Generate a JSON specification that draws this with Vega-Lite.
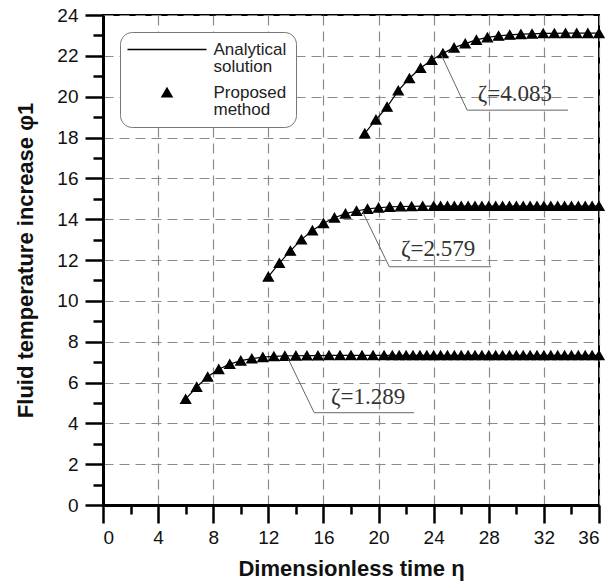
{
  "$schema": "https://vega.github.io/schema/vega-lite/v6.json",
  "width": 496,
  "height": 490,
  "autosize": {"type": "none"},
  "padding": {"left": 103, "top": 15, "right": 13, "bottom": 83},
  "background": "white",
  "datasets": {
    "curves": [
      {"eta": 6, "phi": 5.19, "zeta": "1.289"},
      {"eta": 6.8, "phi": 5.78, "zeta": "1.289"},
      {"eta": 7.6, "phi": 6.28, "zeta": "1.289"},
      {"eta": 8.4, "phi": 6.65, "zeta": "1.289"},
      {"eta": 9.2, "phi": 6.9, "zeta": "1.289"},
      {"eta": 10, "phi": 7.07, "zeta": "1.289"},
      {"eta": 10.8, "phi": 7.17, "zeta": "1.289"},
      {"eta": 11.6, "phi": 7.24, "zeta": "1.289"},
      {"eta": 12.4, "phi": 7.28, "zeta": "1.289"},
      {"eta": 13.2, "phi": 7.3, "zeta": "1.289"},
      {"eta": 14, "phi": 7.31, "zeta": "1.289"},
      {"eta": 14.8, "phi": 7.32, "zeta": "1.289"},
      {"eta": 15.6, "phi": 7.32, "zeta": "1.289"},
      {"eta": 16.4, "phi": 7.33, "zeta": "1.289"},
      {"eta": 17.2, "phi": 7.33, "zeta": "1.289"},
      {"eta": 18, "phi": 7.33, "zeta": "1.289"},
      {"eta": 18.8, "phi": 7.33, "zeta": "1.289"},
      {"eta": 19.6, "phi": 7.33, "zeta": "1.289"},
      {"eta": 20.4, "phi": 7.33, "zeta": "1.289"},
      {"eta": 21, "phi": 7.33, "zeta": "1.289"},
      {"eta": 21.5, "phi": 7.33, "zeta": "1.289"},
      {"eta": 22, "phi": 7.33, "zeta": "1.289"},
      {"eta": 22.5, "phi": 7.33, "zeta": "1.289"},
      {"eta": 23, "phi": 7.33, "zeta": "1.289"},
      {"eta": 23.5, "phi": 7.33, "zeta": "1.289"},
      {"eta": 24, "phi": 7.33, "zeta": "1.289"},
      {"eta": 24.5, "phi": 7.33, "zeta": "1.289"},
      {"eta": 25, "phi": 7.33, "zeta": "1.289"},
      {"eta": 25.5, "phi": 7.33, "zeta": "1.289"},
      {"eta": 26, "phi": 7.33, "zeta": "1.289"},
      {"eta": 26.5, "phi": 7.33, "zeta": "1.289"},
      {"eta": 27, "phi": 7.33, "zeta": "1.289"},
      {"eta": 27.5, "phi": 7.33, "zeta": "1.289"},
      {"eta": 28, "phi": 7.33, "zeta": "1.289"},
      {"eta": 28.5, "phi": 7.33, "zeta": "1.289"},
      {"eta": 29, "phi": 7.33, "zeta": "1.289"},
      {"eta": 29.5, "phi": 7.33, "zeta": "1.289"},
      {"eta": 30, "phi": 7.33, "zeta": "1.289"},
      {"eta": 30.5, "phi": 7.33, "zeta": "1.289"},
      {"eta": 31, "phi": 7.33, "zeta": "1.289"},
      {"eta": 31.5, "phi": 7.33, "zeta": "1.289"},
      {"eta": 32, "phi": 7.33, "zeta": "1.289"},
      {"eta": 32.5, "phi": 7.33, "zeta": "1.289"},
      {"eta": 33, "phi": 7.33, "zeta": "1.289"},
      {"eta": 33.5, "phi": 7.33, "zeta": "1.289"},
      {"eta": 34, "phi": 7.33, "zeta": "1.289"},
      {"eta": 34.5, "phi": 7.33, "zeta": "1.289"},
      {"eta": 35, "phi": 7.33, "zeta": "1.289"},
      {"eta": 35.5, "phi": 7.33, "zeta": "1.289"},
      {"eta": 36, "phi": 7.33, "zeta": "1.289"},
      {"eta": 12, "phi": 11.18, "zeta": "2.579"},
      {"eta": 12.8, "phi": 11.85, "zeta": "2.579"},
      {"eta": 13.6, "phi": 12.45, "zeta": "2.579"},
      {"eta": 14.4, "phi": 13.0, "zeta": "2.579"},
      {"eta": 15.2, "phi": 13.45, "zeta": "2.579"},
      {"eta": 16, "phi": 13.8, "zeta": "2.579"},
      {"eta": 16.8, "phi": 14.07, "zeta": "2.579"},
      {"eta": 17.6, "phi": 14.27, "zeta": "2.579"},
      {"eta": 18.4, "phi": 14.4, "zeta": "2.579"},
      {"eta": 19.2, "phi": 14.5, "zeta": "2.579"},
      {"eta": 20, "phi": 14.56, "zeta": "2.579"},
      {"eta": 20.8, "phi": 14.6, "zeta": "2.579"},
      {"eta": 21.6, "phi": 14.62, "zeta": "2.579"},
      {"eta": 22.4, "phi": 14.63, "zeta": "2.579"},
      {"eta": 23.2, "phi": 14.64, "zeta": "2.579"},
      {"eta": 24, "phi": 14.64, "zeta": "2.579"},
      {"eta": 24.5, "phi": 14.64, "zeta": "2.579"},
      {"eta": 25, "phi": 14.64, "zeta": "2.579"},
      {"eta": 25.5, "phi": 14.64, "zeta": "2.579"},
      {"eta": 26, "phi": 14.64, "zeta": "2.579"},
      {"eta": 26.5, "phi": 14.64, "zeta": "2.579"},
      {"eta": 27, "phi": 14.64, "zeta": "2.579"},
      {"eta": 27.5, "phi": 14.64, "zeta": "2.579"},
      {"eta": 28, "phi": 14.64, "zeta": "2.579"},
      {"eta": 28.5, "phi": 14.64, "zeta": "2.579"},
      {"eta": 29, "phi": 14.64, "zeta": "2.579"},
      {"eta": 29.5, "phi": 14.64, "zeta": "2.579"},
      {"eta": 30, "phi": 14.64, "zeta": "2.579"},
      {"eta": 30.5, "phi": 14.64, "zeta": "2.579"},
      {"eta": 31, "phi": 14.64, "zeta": "2.579"},
      {"eta": 31.5, "phi": 14.64, "zeta": "2.579"},
      {"eta": 32, "phi": 14.64, "zeta": "2.579"},
      {"eta": 32.5, "phi": 14.64, "zeta": "2.579"},
      {"eta": 33, "phi": 14.64, "zeta": "2.579"},
      {"eta": 33.5, "phi": 14.64, "zeta": "2.579"},
      {"eta": 34, "phi": 14.64, "zeta": "2.579"},
      {"eta": 34.5, "phi": 14.64, "zeta": "2.579"},
      {"eta": 35, "phi": 14.64, "zeta": "2.579"},
      {"eta": 35.5, "phi": 14.64, "zeta": "2.579"},
      {"eta": 36, "phi": 14.64, "zeta": "2.579"},
      {"eta": 19, "phi": 18.2, "zeta": "4.083"},
      {"eta": 19.81, "phi": 18.87, "zeta": "4.083"},
      {"eta": 20.62, "phi": 19.5, "zeta": "4.083"},
      {"eta": 21.43, "phi": 20.3, "zeta": "4.083"},
      {"eta": 22.24, "phi": 20.9, "zeta": "4.083"},
      {"eta": 23.05, "phi": 21.4, "zeta": "4.083"},
      {"eta": 23.86, "phi": 21.8, "zeta": "4.083"},
      {"eta": 24.67, "phi": 22.12, "zeta": "4.083"},
      {"eta": 25.48, "phi": 22.4, "zeta": "4.083"},
      {"eta": 26.29, "phi": 22.6, "zeta": "4.083"},
      {"eta": 27.1, "phi": 22.78, "zeta": "4.083"},
      {"eta": 27.9, "phi": 22.9, "zeta": "4.083"},
      {"eta": 28.71, "phi": 22.98, "zeta": "4.083"},
      {"eta": 29.52, "phi": 23.03, "zeta": "4.083"},
      {"eta": 30.33, "phi": 23.06, "zeta": "4.083"},
      {"eta": 31.14, "phi": 23.08, "zeta": "4.083"},
      {"eta": 31.95, "phi": 23.1, "zeta": "4.083"},
      {"eta": 32.76, "phi": 23.1, "zeta": "4.083"},
      {"eta": 33.57, "phi": 23.11, "zeta": "4.083"},
      {"eta": 34.38, "phi": 23.11, "zeta": "4.083"},
      {"eta": 35.19, "phi": 23.11, "zeta": "4.083"},
      {"eta": 36, "phi": 23.11, "zeta": "4.083"}
    ],
    "notes": [
      {"label": "ζ=1.289", "x0": 13.45, "y0": 7.15, "x1": 15.33, "y1": 4.52, "x2": 22.57, "tx": 16.55, "ty": 4.95},
      {"label": "ζ=2.579", "x0": 18.85, "y0": 14.35, "x1": 20.78, "y1": 11.67, "x2": 28.16, "tx": 21.63, "ty": 12.2},
      {"label": "ζ=4.083", "x0": 24.55, "y0": 22.05, "x1": 26.43, "y1": 19.34, "x2": 33.75, "tx": 27.2, "ty": 19.77}
    ]
  },
  "resolve": {"axis": {"x": "independent", "y": "independent"}},
  "layer": [
    {
      "data": {"name": "curves"},
      "mark": {"type": "line", "color": "black", "strokeWidth": 1.2},
      "encoding": {
        "x": {
          "field": "eta", "type": "quantitative",
          "scale": {"domain": [0, 36], "nice": false, "zero": false},
          "axis": {
            "orient": "bottom",
            "values": [0, 4, 8, 12, 16, 20, 24, 28, 32, 36],
            "title": "Dimensionless time η",
            "tickSize": 18, "labelPadding": 5, "titlePadding": 11,
            "grid": true
          }
        },
        "y": {
          "field": "phi", "type": "quantitative",
          "scale": {"domain": [0, 24], "nice": false, "zero": false},
          "axis": {
            "orient": "left",
            "values": [0, 2, 4, 6, 8, 10, 12, 14, 16, 18, 20, 22, 24],
            "title": "Fluid temperature increase φ1",
            "tickSize": 18, "labelPadding": 7, "titlePadding": 19,
            "grid": true
          }
        },
        "detail": {"field": "zeta"},
        "order": {"field": "eta"}
      }
    },
    {
      "data": {"name": "curves"},
      "mark": {"type": "point", "filled": true, "fill": "black", "stroke": "black", "strokeWidth": 1.3, "opacity": 1, "size": 100},
      "encoding": {
        "x": {"field": "eta", "type": "quantitative", "axis": null},
        "y": {"field": "phi", "type": "quantitative", "axis": null},
        "shape": {
          "datum": "Proposed method",
          "scale": {"domain": ["Analytical solution", "Proposed method"], "range": ["M-7.9,0H7.9", "triangle-up"]},
          "legend": {
            "title": null,
            "orient": "top-left",
            "offset": 17,
            "padding": 9,
            "cornerRadius": 12,
            "strokeColor": "#777777",
            "fillColor": "white",
            "symbolSize": 100,
            "symbolOffset": 29.5,
            "labelOffset": 38,
            "labelFont": "Liberation Sans",
            "labelFontSize": 17,
            "labelColor": "#222222",
            "labelLimit": 300,
            "rowPadding": 8,
            "labelExpr": "datum.label == 'Analytical solution' ? ['Analytical', 'solution'] : ['Proposed', 'method']"
          }
        }
      }
    },
    {
      "data": {"name": "notes"},
      "mark": {"type": "rule", "color": "#666666", "strokeWidth": 1},
      "encoding": {
        "x": {
          "field": "x0", "type": "quantitative",
          "axis": {
            "orient": "bottom",
            "values": [2, 6, 10, 14, 18, 22, 26, 30, 34],
            "tickSize": 9, "labels": false, "domain": false, "grid": false, "title": null
          }
        },
        "y": {
          "field": "y0", "type": "quantitative",
          "axis": {
            "orient": "left",
            "values": [1, 3, 5, 7, 9, 11, 13, 15, 17, 19, 21, 23],
            "tickSize": 10, "labels": false, "domain": false, "grid": false, "title": null
          }
        },
        "x2": {"field": "x1"},
        "y2": {"field": "y1"}
      }
    },
    {
      "data": {"name": "notes"},
      "mark": {"type": "rule", "color": "#666666", "strokeWidth": 1},
      "encoding": {
        "x": {"field": "x1", "type": "quantitative", "axis": null},
        "x2": {"field": "x2"},
        "y": {"field": "y1", "type": "quantitative", "axis": null}
      }
    },
    {
      "data": {"name": "notes"},
      "mark": {"type": "text", "align": "left", "baseline": "alphabetic", "font": "Liberation Serif", "fontSize": 23, "color": "#333333"},
      "encoding": {
        "x": {"field": "tx", "type": "quantitative", "axis": null},
        "y": {"field": "ty", "type": "quantitative", "axis": null},
        "text": {"field": "label"}
      }
    }
  ],
  "config": {
    "view": {"stroke": "black", "strokeWidth": 2},
    "style": {"guide-label": {"lineHeight": 17.5}},
    "axis": {
      "domainColor": "black", "domainWidth": 3,
      "tickColor": "black", "tickWidth": 2.5,
      "labelFont": "Liberation Sans", "labelFontSize": 19, "labelColor": "#111111",
      "titleFont": "Liberation Sans", "titleFontSize": 22, "titleFontWeight": "bold", "titleColor": "#111111",
      "gridColor": "#8a8a8a", "gridDash": [10, 6], "gridWidth": 1.2
    }
  }
}
